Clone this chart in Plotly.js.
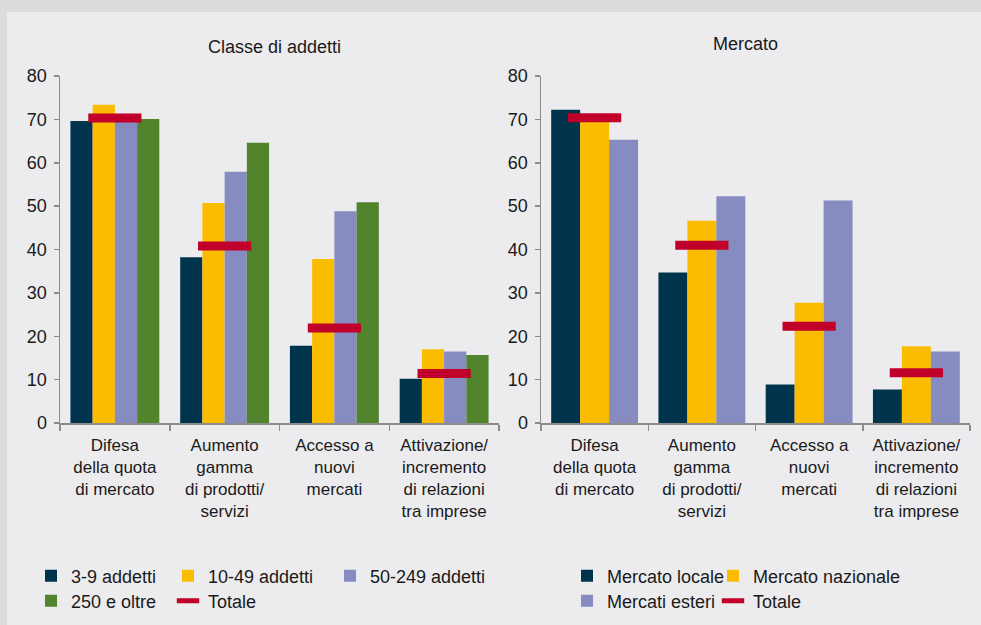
<!DOCTYPE html>
<html>
<head>
<meta charset="utf-8">
<script src="https://cdn.plot.ly/plotly-3.0.1.min.js"></script>
<style>html,body{margin:0;padding:0;background:#dcdcde;}#chart{width:981px;height:625px;}</style>
</head>
<body>
<div id="chart"></div>
<script>
// ---- Data ----
const categories = [
  "Difesa<br>della quota<br>di mercato",
  "Aumento<br>gamma<br>di prodotti/<br>servizi",
  "Accesso a<br>nuovi<br>mercati",
  "Attivazione/<br>incremento<br>di relazioni<br>tra imprese"
];
const yTicks = [0, 10, 20, 30, 40, 50, 60, 70, 80];

// Classe di addetti
const addetti3_9 = [69.6, 38.2, 17.8, 10.2];
const addetti10_49 = [73.4, 50.7, 37.8, 17.0];
const addetti50_249 = [69.7, 57.9, 48.8, 16.5];
const addetti250 = [70.1, 64.6, 50.9, 15.7];
const totaleClasse = [70.3, 40.8, 21.9, 11.4];

// Mercato
const mercatoLocale = [72.2, 34.7, 8.9, 7.7];
const mercatoNazionale = [70.0, 46.6, 27.7, 17.7];
const mercatiEsteri = [65.3, 52.3, 51.3, 16.5];
const totaleMercato = [70.4, 41.0, 22.3, 11.6];

// ---- Styles ----
const C_NAVY = '#00344d', C_YEL = '#fbbc00', C_LAV = '#878cc0', C_GRN = '#52832d', C_RED = '#c0002a';
const W = 981, H = 625;
const FONT = 'Liberation Sans, Arial, sans-serif';

function bar(name, y, color, xa, ya, legend, lw) {
  const t = {type: 'bar', name: name, x: categories, y: y, xaxis: xa, yaxis: ya,
    marker: {color: color, line: {width: 0}}, legend: legend, hoverinfo: 'y+name'};
  if (lw) t.legendwidth = lw;
  return t;
}
function tot(y, xa, ya, legend) {
  return {type: 'scatter', mode: 'markers', name: 'Totale', x: categories, y: y, xaxis: xa, yaxis: ya,
    marker: {symbol: 'line-ew', size: 38, color: C_RED, line: {color: C_RED, width: 9}},
    legend: legend, hoverinfo: 'y+name'};
}

const data = [
  bar('3-9 addetti', addetti3_9, C_NAVY, 'x', 'y', 'legend', 92),
  bar('10-49 addetti', addetti10_49, C_YEL, 'x', 'y', 'legend', 117),
  bar('50-249 addetti', addetti50_249, C_LAV, 'x', 'y', 'legend'),
  bar('250 e oltre', addetti250, C_GRN, 'x', 'y', 'legend2', 92),
  tot(totaleClasse, 'x', 'y', 'legend2'),
  bar('Mercato locale', mercatoLocale, C_NAVY, 'x2', 'y2', 'legend3', 101),
  bar('Mercato nazionale', mercatoNazionale, C_YEL, 'x2', 'y2', 'legend3'),
  bar('Mercati esteri', mercatiEsteri, C_LAV, 'x2', 'y2', 'legend4', 101),
  tot(totaleMercato, 'x2', 'y2', 'legend4')
];

const yDom = [1 - 423 / H, 1 - 76 / H];
function xax(dom) {
  return {domain: dom, type: 'category', range: [-0.5, 3.5], showline: true, linecolor: '#8c8c8c', linewidth: 1.5,
    ticks: 'outside', tickson: 'boundaries', ticklen: 6, tickcolor: '#8c8c8c', tickwidth: 1.5,
    showgrid: false, zeroline: false, tickfont: {family: FONT, size: 17, color: '#1a1a1a'},
    ticklabelstandoff: 6, fixedrange: true};
}
function yax(anchor) {
  return {domain: yDom, anchor: anchor, range: [0, 80], tickvals: yTicks, showline: true, linecolor: '#8c8c8c', linewidth: 1.5,
    ticks: 'outside', ticklen: 5, tickcolor: '#8c8c8c', tickwidth: 1.5, showgrid: false, zeroline: false,
    tickfont: {family: FONT, size: 18, color: '#1a1a1a'}, ticklabelstandoff: 3, fixedrange: true};
}
function leg(xpx, ypx) {
  return {orientation: 'h', x: xpx / W, y: 1 - ypx / H, xanchor: 'left', yanchor: 'middle',
    bgcolor: 'rgba(0,0,0,0)', borderwidth: 0, font: {family: FONT, size: 18, color: '#1a1a1a'},
    itemclick: false, itemdoubleclick: false, traceorder: 'normal'};
}

const layout = {
  width: W, height: H, autosize: false,
  margin: {l: 0, r: 0, t: 0, b: 0},
  paper_bgcolor: '#dcdcde', plot_bgcolor: 'rgba(0,0,0,0)',
  font: {family: FONT, color: '#1a1a1a'},
  barmode: 'group', bargap: 0.19, bargroupgap: 0,
  xaxis: xax([60 / W, 499 / W]), yaxis: yax('x'),
  xaxis2: xax([541 / W, 970 / W]), yaxis2: yax('x2'),
  showlegend: true,
  legend: leg(31, 576), legend2: leg(31, 601), legend3: leg(567, 576), legend4: leg(567, 601),
  shapes: [{type: 'rect', xref: 'paper', yref: 'paper', x0: 7 / W, x1: 1, y0: 0, y1: 1 - 12 / H,
    fillcolor: '#ececee', line: {width: 0}, layer: 'below'}],
  annotations: [
    {text: 'Classe di addetti', xref: 'paper', yref: 'paper', x: 274 / W, y: 1 - 47 / H, xanchor: 'center', yanchor: 'middle',
      showarrow: false, font: {family: FONT, size: 18, color: '#1a1a1a'}},
    {text: 'Mercato', xref: 'paper', yref: 'paper', x: 745 / W, y: 1 - 44 / H, xanchor: 'center', yanchor: 'middle',
      showarrow: false, font: {family: FONT, size: 18, color: '#1a1a1a'}}
  ]
};

Plotly.newPlot('chart', data, layout, {displayModeBar: false, staticPlot: true});
</script>
</body>
</html>
